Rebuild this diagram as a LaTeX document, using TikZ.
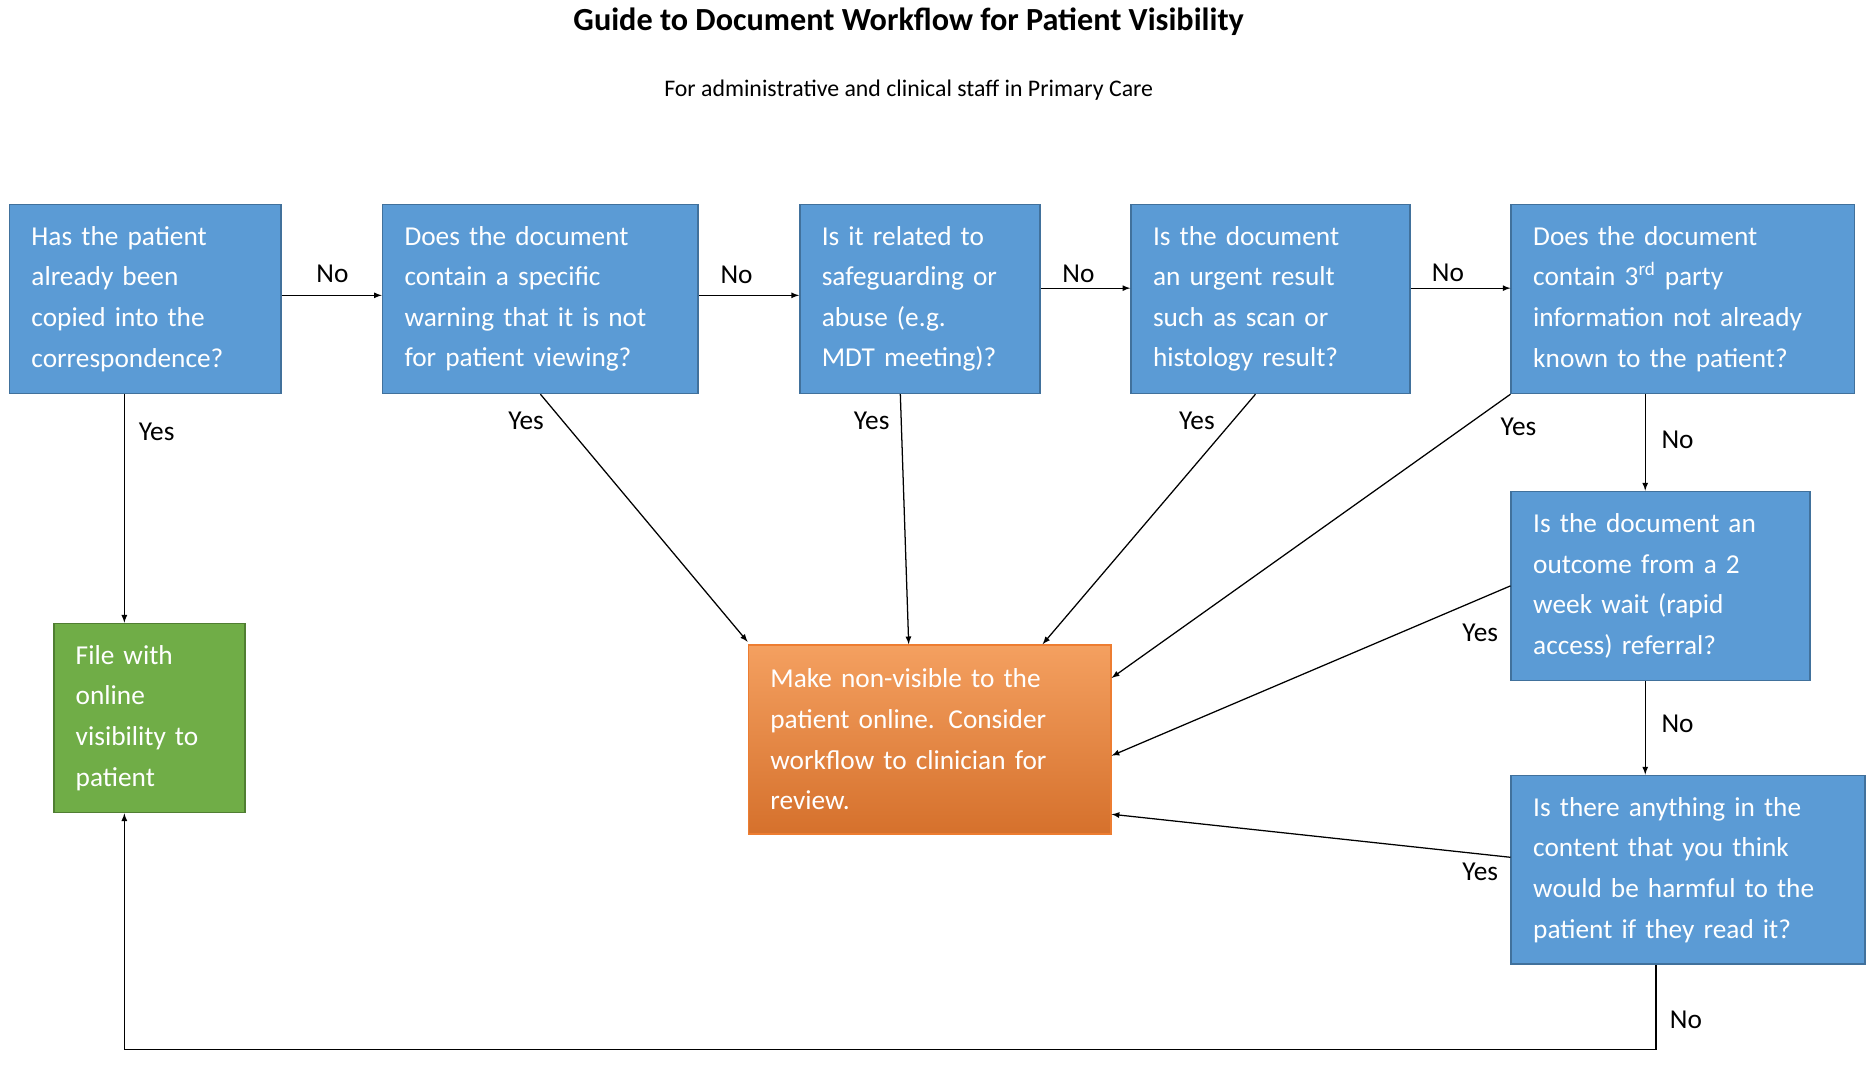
\documentclass[tikz,border=0pt]{standalone}
\usepackage{fontspec}
\setmainfont{Carlito}
\usetikzlibrary{positioning}
\usetikzlibrary{arrows}
\usetikzlibrary{calc}
\definecolor{qblue}{HTML}{5B9BD5}
\definecolor{qedge}{HTML}{41719C}
\definecolor{qgreen}{HTML}{70AD47}
\definecolor{gedge}{HTML}{507E32}
\definecolor{qorange}{HTML}{ED7D31}
\definecolor{qlight}{HTML}{F4A060}

\tikzset{
  qbox/.style={draw=qedge, line width=1.2pt, fill=qblue, text=white, align=left,
    inner xsep=0.55cm, minimum height=4.74cm, font=\fontsize{19.5}{29}\selectfont},
  gbox/.style={qbox, draw=gedge, fill=qgreen},
  obox/.style={qbox, draw=qorange, top color=qlight, bottom color=qorange!90!black},
  flow/.style={-latex, line width=0.9pt},
  lbl/.style={font=\fontsize{19.5}{24}\selectfont}
}

\begin{document}
\begin{tikzpicture}[x=0.03cm,y=-0.03cm]
                \useasboundingbox (0,0) rectangle (1564,910);
                % Titles
                \node[font=\fontsize{23}{28}\selectfont\bfseries] (title) at (760,18) {Guide to Document Workflow for Patient Visibility};
                \node[font=\fontsize{17}{22}\selectfont] (subtitle) at (760,75) {For administrative and clinical staff in Primary Care};

                % Question boxes
                \node[qbox, text width=5.71cm] (a) at (121.5,250) {Has the patient\\already been\\copied into the\\correspondence?};
                \node[qbox, text width=6.82cm] (b) at (452,250) {Does the document\\contain a specific\\warning that it is not\\for patient viewing?};
                \node[qbox, text width=4.93cm] (c) at (769.5,250) {Is it related to\\safeguarding or\\abuse (e.g.\\MDT meeting)?};
                \node[qbox, text width=5.89cm] (d) at (1062.5,250) {Is the document\\an urgent result\\such as scan or\\histology result?};
                \node[qbox, text width=7.51cm] (e) at (1407.5,250) {Does the document\\contain 3\textsuperscript{rd} party\\information not already\\known to the patient?};
                \node[qbox, text width=6.4cm] (f) at (1389,490) {Is the document an\\outcome from a 2\\week wait (rapid\\access) referral?};
                \node[qbox, text width=7.78cm] (g) at (1412,727.5) {Is there anything in the\\content that you think\\would be harmful to the\\patient if they read it?};

                % Outcomes
                \node[gbox, text width=3.7cm] (file) at (125,600.5) {File with\\online\\visibility to\\patient};
                \node[obox, text width=7.99cm] (hide) at (777.5,618.5) {Make non-visible to the\\patient  online.  Consider\\workflow to clinician for\\review.};

                % No chain
                \draw[flow] (a.east |- 0,247) -- (b.west |- 0,247);
                \draw[flow] (b.east |- 0,247) -- (c.west |- 0,247);
                \draw[flow] (c.east |- 0,241) -- (d.west |- 0,241);
                \draw[flow] (d.east |- 0,241) -- (e.west |- 0,241);
                \draw[flow] (e.south -| 1376,0) -- (f.north -| 1376,0);
                \draw[flow] (f.south -| 1376,0) -- (g.north -| 1376,0);
                \coordinate (loop1) at (1385,878);
                \coordinate (loop2) at (104,878);
                \draw[flow] (g.south -| 1385,0) -- (loop1) -- (loop2) -- (file.south -| 104,0);

                % Yes branches
                \draw[flow] (a.south -| 104,0) -- (file.north -| 104,0);
                \draw[flow] (b.south) -- ($(hide.north west)+(0,-2)$);
                \draw[flow] (c.south -| 753,0) -- (hide.north -| 760,0);
                \draw[flow] (d.south -| 1050,0) -- (hide.north -| 872,0);
                \draw[flow] (e.south west) -- (hide.east |- 0,567);
                \draw[flow] (f.west) -- (hide.east |- 0,632);
                \draw[flow] (g.west |- 0,717) -- (hide.east |- 0,681);

                % Labels
                \foreach \x/\y/\t in {278/229/No, 616/230/No, 902/229/No, 1211/228/No, 1403/368/No, 1403/605/No, 1410/853/No,
                    131/361/Yes, 440/352/Yes, 729/352/Yes, 1001/352/Yes, 1270/357/Yes, 1238/529/Yes, 1238/729/Yes}
                    \node[lbl] at (\x,\y) {\t};
\end{tikzpicture}
\end{document}
